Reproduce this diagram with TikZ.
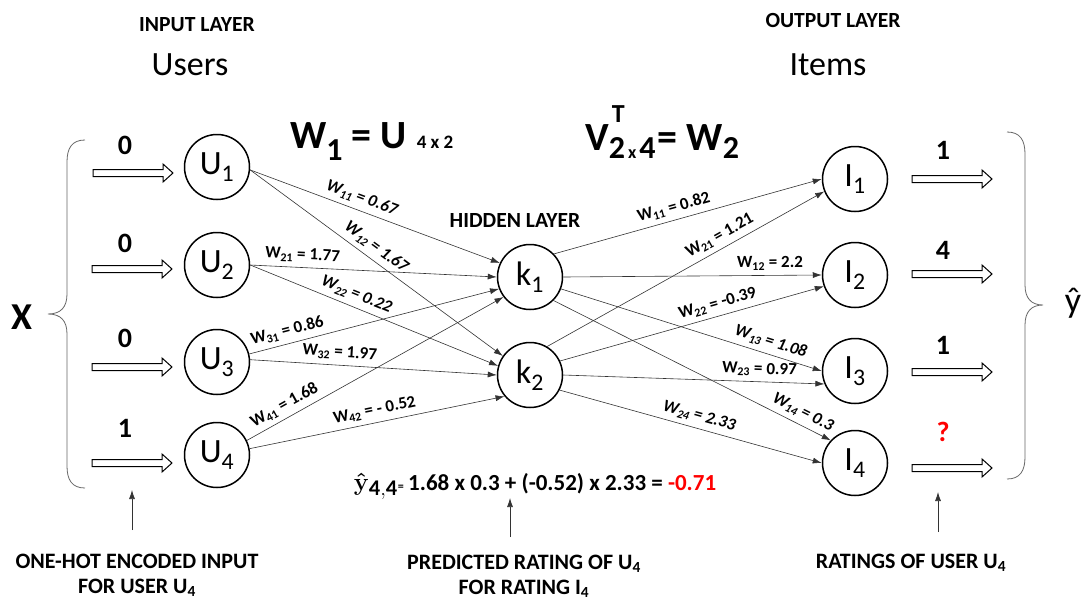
\documentclass[tikz,border=0pt]{standalone}
\usepackage{fontspec}
\setmainfont{Carlito}
\usepackage{amsmath}
\usetikzlibrary{arrows.meta}
\newcommand{\setfs}[1]{\fontsize{#1}{#1}\selectfont}
\newcommand{\bsub}[2]{\raisebox{-0.3em}{\fontsize{#1}{#1}\selectfont #2}}
\begin{document}
\begin{tikzpicture}[x=1pt,y=-1pt,
  neuron/.style={circle, draw, line width=1.5pt, minimum size=65pt, inner sep=0pt, font=\setfs{34pt}},
  conn/.style={draw=black!80, line width=0.6pt, -{Latex[length=9pt,width=6pt]}},
  wlab/.style={sloped, above=4pt, font=\bfseries\setfs{17pt}, inner sep=1pt},
  wlabi/.style={wlab, font=\bfseries\itshape\setfs{17pt}},
  blockline/.style={draw, line width=1pt, fill=white},
  numlab/.style={font=\bfseries\setfs{28pt}},
  header/.style={font=\bfseries\setfs{21.6pt}},
  title/.style={font=\setfs{34pt}},
  bottom/.style={font=\bfseries\fontsize{22pt}{25pt}\selectfont, align=center},
  pointer/.style={draw=black!80, line width=0.7pt, -{Latex[length=9pt,width=6pt]}},
  brace/.style={draw=black!60, line width=0.8pt}
]
\useasboundingbox (0,0) rectangle (1081,603);
\newcommand{\blockarrow}[2]{\draw[blockline] ({#1-40},{#2-3.5}) -- ({#1+30},{#2-3.5}) -- ({#1+30},{#2-9}) -- ({#1+40},{#2}) -- ({#1+30},{#2+9}) -- ({#1+30},{#2+3.5}) -- ({#1-40},{#2+3.5}) -- cycle;}

% headers
\node[header] (inhead) at (197,25) {INPUT LAYER};
\node[title] (users) at (190,65) {Users};
\node[header] (outhead) at (833,20) {OUTPUT LAYER};
\node[title] (items) at (828,65) {Items};
\node[header] (hidhead) at (515,220) {HIDDEN LAYER};

% matrix labels
\node[anchor=base west, font=\bfseries\setfs{40pt}, inner sep=0pt] (wone) at (290,148)
  {W\bsub{32pt}{1} = U\hspace{10pt}{\setfs{19pt}4 x 2}};
\node[anchor=base west, font=\bfseries\setfs{40pt}, inner sep=0pt] (vtwo) at (585,150)
  {V\rlap{\raisebox{0.68em}{\setfs{26pt}\hspace{3pt}T}}\raisebox{-0.2em}{\setfs{32pt}2{\setfs{18pt}\,x\,}4}\hspace{2pt}= W\raisebox{-0.2em}{\setfs{32pt}2}};

% neurons
\node[neuron] (U1) at (217,167) {U\textsubscript{1}};
\node[neuron] (U2) at (217,265) {U\textsubscript{2}};
\node[neuron] (U3) at (217,362) {U\textsubscript{3}};
\node[neuron] (U4) at (217,455) {U\textsubscript{4}};
\node[neuron] (k1) at (530,277) {k\textsubscript{1}};
\node[neuron] (k2) at (530,375) {k\textsubscript{2}};
\node[neuron] (I1) at (855,179) {I\textsubscript{1}};
\node[neuron] (I2) at (855,275) {I\textsubscript{2}};
\node[neuron] (I3) at (855,371) {I\textsubscript{3}};
\node[neuron] (I4) at (855,463) {I\textsubscript{4}};

% input block arrows
\blockarrow{133}{173}
\blockarrow{132}{269}
\blockarrow{132}{367}
\blockarrow{132}{463}
\node[numlab] (n1) at (125,145) {0};
\node[numlab] (n2) at (125,243) {0};
\node[numlab] (n3) at (125,338) {0};
\node[numlab] (n4) at (125,428) {1};

% output block arrows
\blockarrow{952}{179}
\blockarrow{952}{274}
\blockarrow{952}{372}
\blockarrow{952}{468}
\node[numlab] (m1) at (943,150) {1};
\node[numlab] (m2) at (943,250) {4};
\node[numlab] (m3) at (943,345) {1};
\node[numlab, text=red] (m4) at (943,432) {?};

% braces
\draw[brace] (85,140) .. controls (72,140) and (67,148) .. (67,162) -- (67,294)
  .. controls (67,307) and (61,314) .. (48,314) .. controls (61,314) and (67,321) .. (67,334)
  -- (67,466) .. controls (67,480) and (72,488) .. (85,488);
\draw[brace] (1007,132) .. controls (1020,132) and (1025,140) .. (1025,154) -- (1025,285)
  .. controls (1025,298) and (1031,305) .. (1043,305) .. controls (1031,305) and (1025,312) .. (1025,325)
  -- (1025,457) .. controls (1025,471) and (1020,479) .. (1007,479);
\node[font=\bfseries\setfs{38pt}] (xlab) at (22,317) {X};
\node[font=\setfs{36pt}] (yhat) at (1073,303) {ŷ};

% input -> hidden
\draw[conn] (U1.-5) -- node[wlabi, pos=0.43] {W\textsubscript{11} = 0.67} (k1.155);
\draw[conn] (U1.-5) -- node[wlabi, pos=0.47] {W\textsubscript{12} = 1.67} (k2.145);
\draw[conn] (U2.0) -- node[wlab, pos=0.21] {W\textsubscript{21} = 1.77} (k1.180);
\draw[conn] (U2.0) -- node[wlabi, pos=0.41] {W\textsubscript{22} = 0.22} (k2.164);
\draw[conn] (U3.14) -- node[wlab, pos=0.165] {W\textsubscript{31} = 0.86} (k1.201);
\draw[conn] (U3.4) -- node[wlab, pos=0.36] {W\textsubscript{32} = 1.97} (k2.180);
\draw[conn] (U4.26) -- node[wlab, pos=0.17] {W\textsubscript{41} = 1.68} (k1.217);
\draw[conn] (U4.11) -- node[wlab, pos=0.50] {W\textsubscript{42} = - 0.52} (k2.220);

% hidden -> output
\draw[conn] (k1.44) -- node[wlab, pos=0.46] {W\textsubscript{11} = 0.82} (I1.180);
\draw[conn] (k2.59) -- node[wlab, pos=0.645] {W\textsubscript{21} = 1.21} (I1.202);
\draw[conn] (k1.0) -- node[wlab, pos=0.80] {W\textsubscript{12} = 2.2} (I2.180);
\draw[conn] (k2.25) -- node[wlab, pos=0.61] {W\textsubscript{22} = -0.39} (I2.200);
\draw[conn] (k1.-21) -- node[wlabi, pos=0.79] {W\textsubscript{13} = 1.08} (I3.180);
\draw[conn] (k2.0) -- node[wlab, pos=0.75] {W\textsubscript{23} = 0.97} (I3.203);
\draw[conn] (k1.-45) -- node[wlabi, pos=0.88] {W\textsubscript{14} = 0.3} (I4.137);
\draw[conn] (k2.-27) -- node[wlabi, pos=0.52] {W\textsubscript{24} = 2.33} (I4.180);

% formula
\node[anchor=base east, inner sep=0pt, font=\setfs{32pt}] (yform) at (404,490)
  {$\boldsymbol{\hat{\mathbf{y}}}_{\mathbf{4,4}}$\raisebox{0pt}{\bfseries\setfs{12pt}=}};
\node[anchor=base west, inner sep=0pt, font=\bfseries\setfs{23pt}] (form) at (408,490)
  {1.68 x 0.3 + (-0.52) x 2.33 = \textcolor{red}{-0.71}};

% bottom pointers
\coordinate (p1s) at (132,530);
\coordinate (p1e) at (132,490);
\coordinate (p2s) at (510,537);
\coordinate (p2e) at (510,498);
\coordinate (p3s) at (938,532);
\coordinate (p3e) at (938,492);
\draw[pointer] (p1s) -- (p1e);
\draw[pointer] (p2s) -- (p2e);
\draw[pointer] (p3s) -- (p3e);
\node[bottom] (t1) at (137,575) {ONE-HOT ENCODED INPUT\\FOR USER U\textsubscript{4}};
\node[bottom] (t2) at (524,576) {PREDICTED RATING OF U\textsubscript{4}\\FOR RATING I\textsubscript{4}};
\node[bottom] (t3) at (911,563) {RATINGS OF USER U\textsubscript{4}};
\end{tikzpicture}
\end{document}
